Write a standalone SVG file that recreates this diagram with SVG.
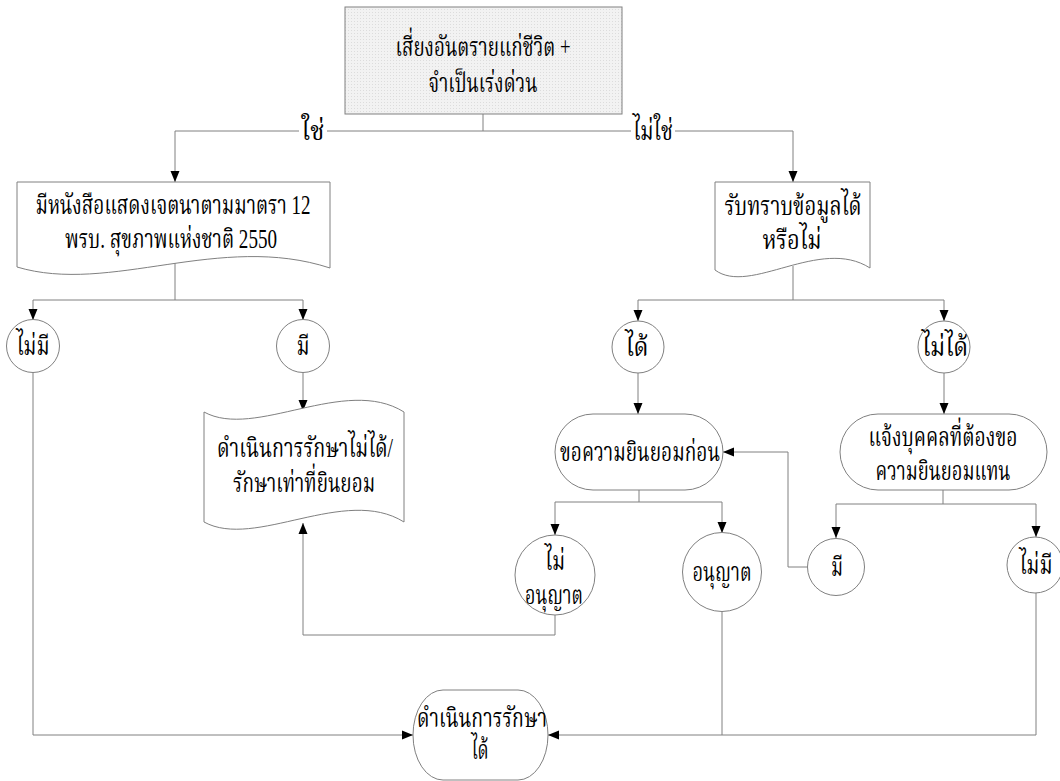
<svg xmlns="http://www.w3.org/2000/svg" width="1060" height="781" viewBox="0 0 1060 781">
<defs>
<marker id="arr" markerUnits="userSpaceOnUse" markerWidth="12" markerHeight="12" viewBox="0 0 12 12" refX="11" refY="6" orient="auto">
<path d="M0,1.5 L11,6 L0,10.5 Z" fill="#000"/>
</marker>
<pattern id="dots" width="3" height="3" patternUnits="userSpaceOnUse">
<rect width="3" height="3" fill="#f2f2f2"/>
<rect width="1" height="1" fill="#dcdcdc"/>
</pattern>
</defs>
<style>
.shape{fill:#fff;stroke:#808080;stroke-width:1}
.line{fill:none;stroke:#808080;stroke-width:1}
.arrow{marker-end:url(#arr)}
text{font-family:"Liberation Serif","Noto Serif Thai","Noto Sans Thai",serif;font-size:27px;fill:#000;text-anchor:middle;dominant-baseline:central}
.lbl{fill:#fff}
</style>
<rect width="1060" height="781" fill="#fff"/>
<g id="connectors">
<path class="line" d="M483,114 V131"/>
<path class="line" d="M175,131 H793"/>
<path class="line arrow" d="M175,131 V182"/>
<path class="line arrow" d="M793,131 V182"/>
<rect class="lbl" x="299" y="120" width="28" height="22"/>
<text x="313" y="131" textLength="23" lengthAdjust="spacingAndGlyphs">ใช่</text>
<rect class="lbl" x="631" y="120" width="44" height="22"/>
<text x="653" y="131" textLength="40" lengthAdjust="spacingAndGlyphs">ไม่ใช่</text>
<path class="line" d="M175,263 V300"/>
<path class="line" d="M33,300 H303"/>
<path class="line arrow" d="M33,300 V320"/>
<path class="line arrow" d="M303,300 V320"/>
<path class="line arrow" d="M33,373 V735 H413"/>
<path class="line arrow" d="M303,373 V411"/>
<path class="line" d="M793,266 V300"/>
<path class="line" d="M638,300 H944"/>
<path class="line arrow" d="M638,300 V321"/>
<path class="line arrow" d="M944,300 V321"/>
<path class="line arrow" d="M638,373 V414"/>
<path class="line arrow" d="M944,373 V414"/>
<path class="line" d="M639,490 V502"/>
<path class="line" d="M555,502 H722"/>
<path class="line arrow" d="M555,502 V535"/>
<path class="line arrow" d="M722,502 V533"/>
<path class="line" d="M943,490 V504"/>
<path class="line" d="M836,504 H1036"/>
<path class="line arrow" d="M836,504 V538"/>
<path class="line arrow" d="M1036,504 V537"/>
<path class="line arrow" d="M807,567 H788 V452 H723"/>
<path class="line arrow" d="M555,615 V635 H303 V523"/>
<path class="line" d="M722,612 V735"/>
<path class="line arrow" d="M1036,593 V735 H548"/>
</g>
<g id="n-start">
<rect x="345" y="7" width="277" height="107" fill="url(#dots)" stroke="#808080"/>
<text x="483" y="47" textLength="175" lengthAdjust="spacingAndGlyphs">เสี่ยงอันตรายแก่ชีวิต +</text>
<text x="483" y="83" textLength="109" lengthAdjust="spacingAndGlyphs">จำเป็นเร่งด่วน</text>
</g>
<g id="n-doc-left">
<path class="shape" d="M17,182 H330 V268 C220,232 110,295 17,267 Z"/>
<text x="173" y="205" textLength="275" lengthAdjust="spacingAndGlyphs">มีหนังสือแสดงเจตนาตามมาตรา 12</text>
<text x="171" y="239" textLength="212" lengthAdjust="spacingAndGlyphs">พรบ. สุขภาพแห่งชาติ 2550</text>
</g>
<g id="n-doc-right">
<path class="shape" d="M715,182 H870 V268 C820,236 750,296 715,270 Z"/>
<text x="793" y="206" textLength="137" lengthAdjust="spacingAndGlyphs">รับทราบข้อมูลได้</text>
<text x="792" y="240" textLength="59" lengthAdjust="spacingAndGlyphs">หรือไม่</text>
</g>
<g id="n-nomi-left">
<circle class="shape" cx="33" cy="346" r="26.5"/>
<text x="33" y="346" textLength="33" lengthAdjust="spacingAndGlyphs">ไม่มี</text>
</g>
<g id="n-mi-left">
<circle class="shape" cx="303" cy="346" r="26.5"/>
<text x="303" y="346" textLength="13" lengthAdjust="spacingAndGlyphs">มี</text>
</g>
<g id="n-tape">
<path class="shape" d="M204,412 C255,440 345,375 404,412 V522 C345,485 255,550 204,522 Z"/>
<text x="305" y="448" textLength="176" lengthAdjust="spacingAndGlyphs">ดำเนินการรักษาไม่ได้/</text>
<text x="304" y="483" textLength="142" lengthAdjust="spacingAndGlyphs">รักษาเท่าที่ยินยอม</text>
</g>
<g id="n-dai">
<circle class="shape" cx="638" cy="347" r="26"/>
<text x="637" y="347" textLength="23" lengthAdjust="spacingAndGlyphs">ได้</text>
</g>
<g id="n-maidai">
<circle class="shape" cx="944" cy="347" r="26"/>
<text x="945" y="347" textLength="46" lengthAdjust="spacingAndGlyphs">ไม่ได้</text>
</g>
<g id="n-ask">
<rect class="shape" x="555" y="414" width="168" height="76" rx="38" ry="38"/>
<text x="640" y="452" textLength="160" lengthAdjust="spacingAndGlyphs">ขอความยินยอมก่อน</text>
</g>
<g id="n-notify">
<rect class="shape" x="840" y="414" width="207" height="76" rx="38" ry="38"/>
<text x="943" y="437" textLength="149" lengthAdjust="spacingAndGlyphs">แจ้งบุคคลที่ต้องขอ</text>
<text x="943" y="471" textLength="135" lengthAdjust="spacingAndGlyphs">ความยินยอมแทน</text>
</g>
<g id="n-notallow">
<circle class="shape" cx="555" cy="575" r="40"/>
<text x="555" y="561" textLength="20" lengthAdjust="spacingAndGlyphs">ไม่</text>
<text x="554" y="595" textLength="58" lengthAdjust="spacingAndGlyphs">อนุญาต</text>
</g>
<g id="n-allow">
<circle class="shape" cx="722" cy="572" r="39.5"/>
<text x="722" y="572" textLength="59" lengthAdjust="spacingAndGlyphs">อนุญาต</text>
</g>
<g id="n-mi-right">
<circle class="shape" cx="836" cy="567" r="28.5"/>
<text x="837" y="567" textLength="12" lengthAdjust="spacingAndGlyphs">มี</text>
</g>
<g id="n-nomi-right">
<circle class="shape" cx="1035" cy="565" r="28"/>
<text x="1036" y="565" textLength="33" lengthAdjust="spacingAndGlyphs">ไม่มี</text>
</g>
<g id="n-end">
<rect class="shape" x="413" y="690" width="135" height="90" rx="30" ry="45"/>
<text x="482" y="718" textLength="130" lengthAdjust="spacingAndGlyphs">ดำเนินการรักษา</text>
<text x="480" y="750" textLength="17" lengthAdjust="spacingAndGlyphs">ได้</text>
</g>
</svg>
